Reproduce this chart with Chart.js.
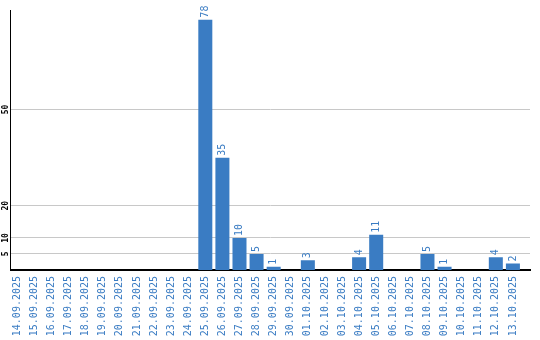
<!DOCTYPE html>
<html>
<head>
<meta charset="utf-8">
<script src="https://cdn.jsdelivr.net/npm/chart.js@4"></script>
<style>
  html, body { margin: 0; padding: 0; background: #fff; }
  #wrap { width: 540px; height: 340px; }
</style>
</head>
<body>
<div id="wrap"><canvas id="chart"></canvas></div>
<script>
// dates shown on the x axis
const days = [
  "14.09.2025", "15.09.2025", "16.09.2025", "17.09.2025", "18.09.2025",
  "19.09.2025", "20.09.2025", "21.09.2025", "22.09.2025", "23.09.2025",
  "24.09.2025", "25.09.2025", "26.09.2025", "27.09.2025", "28.09.2025",
  "29.09.2025", "30.09.2025", "01.10.2025", "02.10.2025", "03.10.2025",
  "04.10.2025", "05.10.2025", "06.10.2025", "07.10.2025", "08.10.2025",
  "09.10.2025", "10.10.2025", "11.10.2025", "12.10.2025", "13.10.2025"
];
// count per day
const counts = [
  0, 0, 0, 0, 0, 0, 0, 0, 0, 0,
  0, 78, 35, 10, 5, 1, 0, 3, 0, 0,
  4, 11, 0, 0, 5, 1, 0, 0, 4, 2
];
// y ticks that get a grid line
const yTicks = [5, 10, 20, 50];

const BLUE = "#3a7cc3";
const MONO = "'DejaVu Sans Mono', monospace";

// numbers above bars + rotated y tick labels
const textLayer = {
  id: "textLayer",
  afterDatasetsDraw(chart) {
    const ctx = chart.ctx;
    const meta = chart.getDatasetMeta(0);
    ctx.save();
    ctx.fillStyle = BLUE;
    ctx.font = "10px " + MONO;
    ctx.textAlign = "left";
    ctx.textBaseline = "middle";
    meta.data.forEach((bar, i) => {
      if (!counts[i]) return;
      ctx.save();
      ctx.translate(bar.x, bar.y - 2);
      ctx.rotate(-Math.PI / 2);
      ctx.fillText(String(counts[i]), 0, 0);
      ctx.restore();
    });

    // y labels, turned on their side and centred on the grid line
    const y = chart.scales.y;
    ctx.fillStyle = "#000";
    ctx.font = "bold 8px " + MONO;
    ctx.textAlign = "center";
    yTicks.forEach(v => {
      ctx.save();
      ctx.translate(5.5, y.getPixelForValue(v));
      ctx.rotate(-Math.PI / 2);
      ctx.fillText(String(v), 0, 0);
      ctx.restore();
    });
    ctx.restore();
  }
};

new Chart(document.getElementById("chart"), {
  type: "bar",
  data: {
    datasets: [{
      data: counts.map((v, i) => ({ x: i, y: v })),
      backgroundColor: BLUE,
      borderWidth: 0,
      barPercentage: 0.82,
      categoryPercentage: 1
    }]
  },
  options: {
    responsive: true,
    maintainAspectRatio: false,
    animation: false,
    layout: { padding: { top: 10, right: 10, left: 0, bottom: 0 } },
    plugins: {
      legend: { display: false },
      tooltip: { enabled: false }
    },
    scales: {
      x: {
        type: "linear",
        min: -0.4,
        max: 30,
        offset: false,
        grid: { display: false, drawTicks: false },
        border: { display: true, color: "#000", width: 2 },
        afterBuildTicks(scale) {
          scale.ticks = days.map((d, i) => ({ value: i }));
        },
        afterFit(scale) { scale.height = 70; },
        ticks: {
          autoSkip: false,
          minRotation: 90,
          maxRotation: 90,
          padding: 6,
          color: BLUE,
          font: { family: MONO, size: 10 },
          callback: (v) => days[v]
        }
      },
      y: {
        min: 0,
        max: 81,
        grid: { color: "#c8c8c8", lineWidth: 1, drawTicks: false },
        border: { display: true, color: "#000", width: 1 },
        afterBuildTicks(scale) {
          scale.ticks = yTicks.map(v => ({ value: v }));
        },
        afterFit(scale) { scale.width = 10.5; },
        ticks: { display: false }
      }
    }
  },
  plugins: [textLayer]
});
</script>
</body>
</html>
